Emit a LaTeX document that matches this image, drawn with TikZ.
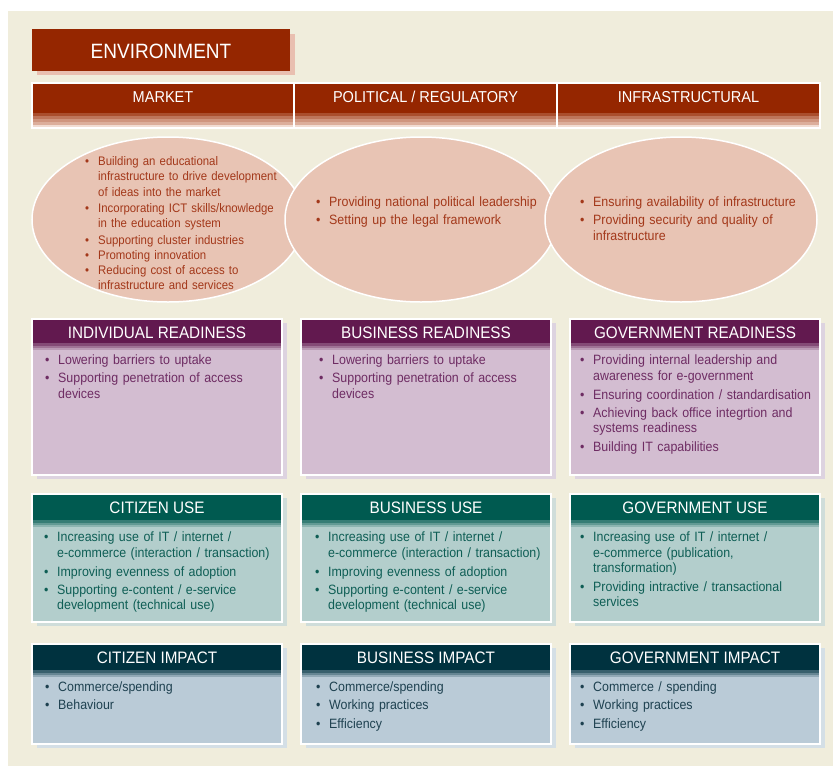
\documentclass[tikz,border=0pt]{standalone}
\usepackage{fontspec}
\setmainfont{Liberation Sans}[FakeStretch=0.92]
\usetikzlibrary{shapes.geometric}
\definecolor{bgbeige}{HTML}{F0EDDC}
\definecolor{envred}{HTML}{952600}
\definecolor{envsh}{HTML}{E9BFB0}
\definecolor{ellfill}{HTML}{E8C4B4}
\definecolor{elltx}{HTML}{A3381A}
\definecolor{puhd}{HTML}{62194F}
\definecolor{pubd}{HTML}{D3BDD1}
\definecolor{putx}{HTML}{6E2C63}
\definecolor{push}{HTML}{DDD3E0}
\definecolor{tehd}{HTML}{005A50}
\definecolor{tebd}{HTML}{B3CECC}
\definecolor{tetx}{HTML}{0E5E55}
\definecolor{tesh}{HTML}{CFDDDA}
\definecolor{nvhd}{HTML}{00323F}
\definecolor{nvbd}{HTML}{BACBD7}
\definecolor{nvtx}{HTML}{1E4150}
\definecolor{nvsh}{HTML}{D4DFE6}
\newlength\hangw \setlength\hangw{13pt}
\newcommand\itm[1]{\par\noindent\makebox[\hangw][l]{\textbullet}\begin{tabular}[t]{@{}l@{}}#1\end{tabular}}
\newcommand\bodyfont{\fontsize{13.5}{15.3}\selectfont}
\tikzset{
  ttl/.style={anchor=base, text=white, inner sep=0pt, font=\fontsize{16.6}{18}\selectfont},
  lst/.style={anchor=north west, inner sep=0pt, text width=250pt, align=left},
  ell/.style={ellipse, draw=white, line width=1.5pt, fill=ellfill, minimum width=272pt, minimum height=165pt, inner sep=0pt},
}
% #1 name #2 left #3 top #4 bottom #5 header bottom #6 scheme #7 title #8 text x #9 items
\newcommand\ebox[9]{%
  \fill[#6sh] ({#2+5},{#3+4}) rectangle ({#2+255},{#4+4});
  \fill[#6bd] (#2,#3) rectangle ({#2+250},#4);
  \fill[#6hd] (#2,#3) rectangle ({#2+250},#5);
  \fill[#6hd!70!#6bd] (#2,#5) rectangle ({#2+250},{#5+2.5});
  \fill[#6hd!45!#6bd] (#2,{#5+2.5}) rectangle ({#2+250},{#5+5});
  \fill[#6hd!22!#6bd] (#2,{#5+5}) rectangle ({#2+250},{#5+7});
  \draw[white,line width=1.2pt] (#2,#3) rectangle ({#2+250},#4);
  \node[ttl] (#1-t) at ({#2+125},{#3+19.5}) {#7};
  \node[lst,text=#6tx,font=\bodyfont] (#1-l) at ({#8-13},{#5+3.5}) {\setlength\parskip{2.8pt}#9};
}
\begin{document}
\begin{tikzpicture}[x=1pt,y=-1pt]
\useasboundingbox (0,0) rectangle (833,766);
\fill[white] (0,0) rectangle (833,766);
\fill[bgbeige] (8,11) rectangle (833,766);

% ENVIRONMENT
\fill[envsh] (37,34) rectangle (295,75);
\fill[envred] (32,29) rectangle (290,71);
\node[ttl, font=\fontsize{20.7}{22}\selectfont] (env) at (161,58.3) {ENVIRONMENT};

% header band
\fill[envred] (32,83) rectangle (820,113);
\fill[envred!75!ellfill] (32,113) rectangle (820,116);
\fill[envred!50!ellfill] (32,116) rectangle (820,119);
\fill[envred!30!ellfill] (32,119) rectangle (820,122);
\fill[envred!14!ellfill] (32,122) rectangle (820,125);
\fill[ellfill!60!white] (32,125) rectangle (820,128);
\draw[white,line width=1.2pt] (32,83) rectangle (820,128);
\draw[white,line width=1.2pt] (294,83) -- (294,128);
\draw[white,line width=1.2pt] (557,83) -- (557,128);
\node[ttl, font=\fontsize{15.8}{17}\selectfont] (mkt-h) at (163,102) {MARKET};
\node[ttl, font=\fontsize{15.8}{17}\selectfont] (pol-h) at (425.5,102) {POLITICAL / REGULATORY};
\node[ttl, font=\fontsize{15.8}{17}\selectfont] (inf-h) at (688.5,102) {INFRASTRUCTURAL};

% ellipses
\node[ell] (mkt) at (168,219.5) {};
\node[ell] (pol) at (421,219.5) {};
\node[ell] (inf) at (681,219.5) {};
\node[lst, text=elltx, text width=230pt, font=\fontsize{12.4}{15.3}\selectfont] (mkt-l) at (85,150) {\setlength\parskip{0pt}%
\itm{Building an educational\\infrastructure to drive development\\of ideas into the market}%
\itm{Incorporating ICT skills/knowledge\\in the education system}%
\itm{Supporting cluster industries}%
\itm{Promoting innovation}%
\itm{Reducing cost of access to\\infrastructure and services}};
\node[lst, text=elltx, font=\bodyfont] (pol-l) at (316,188.5) {\setlength\parskip{2.8pt}%
\itm{Providing national political leadership}%
\itm{Setting up the legal framework}};
\node[lst, text=elltx, font=\bodyfont] (inf-l) at (580,188.5) {\setlength\parskip{2.8pt}%
\itm{Ensuring availability of infrastructure}%
\itm{Providing security and quality of\\infrastructure}};

% readiness
\ebox{ir}{32}{319}{475}{343}{pu}{INDIVIDUAL READINESS}{58}{\itm{Lowering barriers to uptake}\itm{Supporting penetration of access\\devices}}
\ebox{brd}{301}{319}{475}{343}{pu}{BUSINESS READINESS}{332}{\itm{Lowering barriers to uptake}\itm{Supporting penetration of access\\devices}}
\ebox{grd}{570}{319}{475}{343}{pu}{GOVERNMENT READINESS}{593}{\itm{Providing internal leadership and\\awareness for e-government}\itm{Ensuring coordination / standardisation}\itm{Achieving back office integrtion and\\systems readiness}\itm{Building IT capabilities}}

% use
\ebox{cu}{32}{494}{622}{520}{te}{CITIZEN USE}{57}{\itm{Increasing use of IT / internet /\\e-commerce (interaction / transaction)}\itm{Improving evenness of adoption}\itm{Supporting e-content / e-service\\development (technical use)}}
\ebox{bu}{301}{494}{622}{520}{te}{BUSINESS USE}{328}{\itm{Increasing use of IT / internet /\\e-commerce (interaction / transaction)}\itm{Improving evenness of adoption}\itm{Supporting e-content / e-service\\development (technical use)}}
\ebox{gu}{570}{494}{622}{520}{te}{GOVERNMENT USE}{593}{\itm{Increasing use of IT / internet /\\e-commerce (publication,\\transformation)}\itm{Providing intractive / transactional\\services}}

% impact
\ebox{ci}{32}{644}{744}{670}{nv}{CITIZEN IMPACT}{58}{\itm{Commerce/spending}\itm{Behaviour}}
\ebox{bi}{301}{644}{744}{670}{nv}{BUSINESS IMPACT}{329}{\itm{Commerce/spending}\itm{Working practices}\itm{Efficiency}}
\ebox{gi}{570}{644}{744}{670}{nv}{GOVERNMENT IMPACT}{593}{\itm{Commerce / spending}\itm{Working practices}\itm{Efficiency}}
\end{tikzpicture}
\end{document}
